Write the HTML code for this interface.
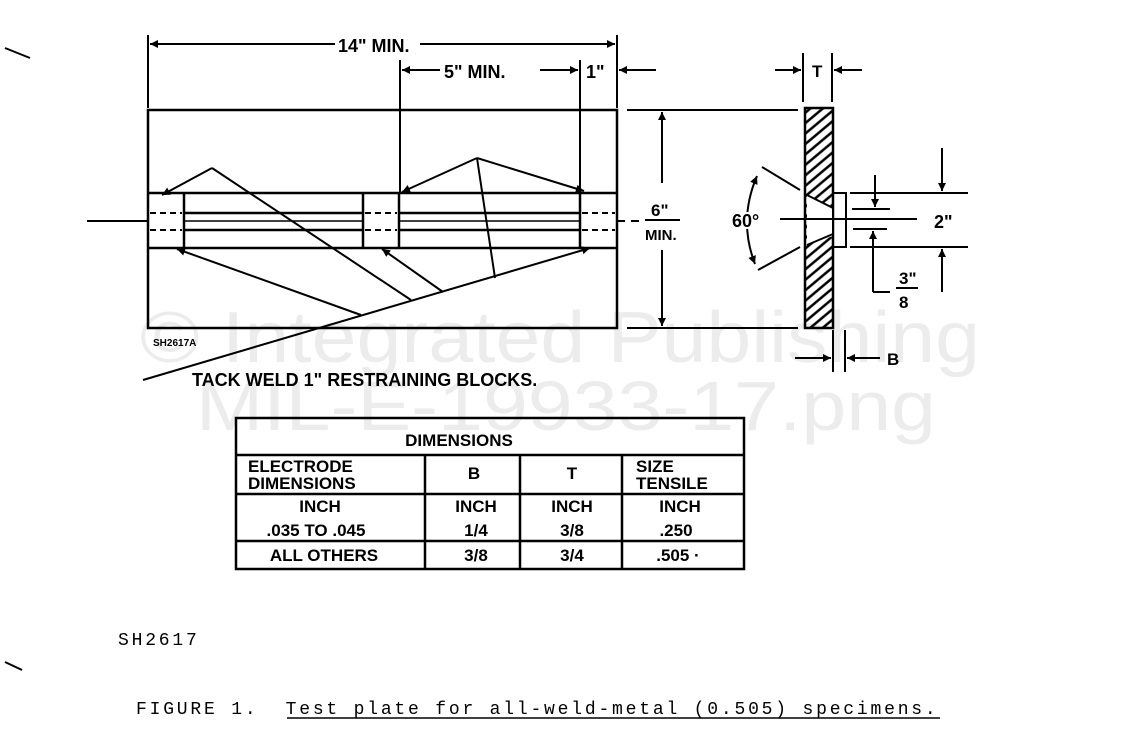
<!DOCTYPE html>
<html><head><meta charset="utf-8"><style>
html,body{margin:0;padding:0;background:#fff;}
svg{display:block;}
.l{font-family:"Liberation Sans",sans-serif;font-weight:bold;fill:#000;}
.m{font-family:"Liberation Mono",monospace;fill:#000;white-space:pre;}
.w{font-family:"Liberation Sans",sans-serif;fill:#ececec;}
</style></head><body>
<svg width="1124" height="742" viewBox="0 0 1124 742" xmlns="http://www.w3.org/2000/svg">
<defs>
<marker id="a" viewBox="0 0 10 10" refX="10" refY="5" markerWidth="14" markerHeight="8" orient="auto-start-reverse" markerUnits="userSpaceOnUse"><path d="M0,0 L10,5 L0,10 z" fill="#000"/></marker>
<pattern id="h" width="8" height="8" patternUnits="userSpaceOnUse" patternTransform="rotate(-40)"><line x1="0" y1="4" x2="8" y2="4" stroke="#000" stroke-width="2.5"/></pattern>
</defs>
<text class="w" x="140" y="362" font-size="72" textLength="840" lengthAdjust="spacingAndGlyphs">© Integrated Publishing</text>
<text class="w" x="196" y="430" font-size="70" textLength="740" lengthAdjust="spacingAndGlyphs">MIL-E-19933-17.png</text>

<g stroke="#000" stroke-width="2.5" fill="none">
<rect x="148" y="110" width="469" height="218"/>
<line x1="148" y1="193" x2="617" y2="193"/>
<line x1="148" y1="248" x2="617" y2="248"/>
<line x1="184" y1="193" x2="184" y2="248"/>
<line x1="363" y1="193" x2="363" y2="248"/>
<line x1="399" y1="193" x2="399" y2="248"/>
<line x1="580" y1="193" x2="580" y2="248"/>
<line x1="184" y1="213" x2="363" y2="213"/><line x1="399" y1="213" x2="580" y2="213"/>
<line x1="184" y1="230" x2="363" y2="230"/><line x1="399" y1="230" x2="580" y2="230"/>
</g>
<g stroke="#000" stroke-width="2" stroke-dasharray="6,4">
<line x1="150" y1="213" x2="182" y2="213"/><line x1="150" y1="230" x2="182" y2="230"/>
<line x1="365" y1="213" x2="397" y2="213"/><line x1="365" y1="230" x2="397" y2="230"/>
<line x1="582" y1="213" x2="615" y2="213"/><line x1="582" y1="230" x2="615" y2="230"/>
</g>
<g stroke="#000" stroke-width="2">
<line x1="87" y1="221" x2="148" y2="221"/>
<line x1="184" y1="221" x2="363" y2="221" stroke-width="1.5"/>
<line x1="399" y1="221" x2="580" y2="221" stroke-width="1.5"/>
<line x1="617" y1="221" x2="640" y2="221" stroke-dasharray="8,6"/>
</g>
<g stroke="#000" stroke-width="2" fill="none">
<line x1="212" y1="168" x2="162" y2="195" marker-end="url(#a)"/>
<line x1="212" y1="168" x2="411" y2="300"/>
<line x1="143" y1="380" x2="590" y2="248" marker-end="url(#a)"/>
<line x1="361" y1="315" x2="177" y2="249" marker-end="url(#a)"/>
<line x1="443" y1="292" x2="382" y2="249" marker-end="url(#a)"/>
<line x1="477" y1="158" x2="402" y2="192" marker-end="url(#a)"/>
<line x1="477" y1="158" x2="584" y2="191" marker-end="url(#a)"/>
<line x1="477" y1="158" x2="495" y2="278"/>
</g>
<g stroke="#000" stroke-width="2" fill="none">
<line x1="148" y1="35" x2="148" y2="108"/>
<line x1="617" y1="35" x2="617" y2="108"/>
<line x1="400" y1="60" x2="400" y2="193"/>
<line x1="580" y1="60" x2="580" y2="193"/>
<line x1="335" y1="44" x2="150" y2="44" marker-end="url(#a)"/>
<line x1="420" y1="44" x2="615" y2="44" marker-end="url(#a)"/>
<line x1="440" y1="70" x2="402" y2="70" marker-end="url(#a)"/>
<line x1="540" y1="70" x2="578" y2="70" marker-end="url(#a)"/>
<line x1="656" y1="70" x2="619" y2="70" marker-end="url(#a)"/>
</g>
<text class="l" x="338" y="52" font-size="18">14" MIN.</text>
<text class="l" x="444" y="78" font-size="18">5" MIN.</text>
<text class="l" x="586" y="78" font-size="18">1"</text>
<text class="l" x="153" y="346" font-size="10">SH2617A</text>
<text class="l" x="192" y="386" font-size="18">TACK WELD 1" RESTRAINING BLOCKS.</text>

<g stroke="#000" stroke-width="2" fill="none">
<line x1="627" y1="110" x2="798" y2="110"/>
<line x1="627" y1="328" x2="798" y2="328"/>
<line x1="662" y1="183" x2="662" y2="112" marker-end="url(#a)"/>
<line x1="662" y1="250" x2="662" y2="326" marker-end="url(#a)"/>
<line x1="645" y1="220" x2="680" y2="220"/>
</g>
<text class="l" x="651" y="216" font-size="17">6"</text>
<text class="l" x="645" y="240" font-size="15">MIN.</text>

<rect x="805" y="108" width="28" height="220" fill="url(#h)" stroke="#000" stroke-width="2.5"/>
<polygon points="807,195 833,207 833,236 807,245" fill="#fff" stroke="none"/>
<g stroke="#000" stroke-width="2" fill="none">
<line x1="807" y1="195" x2="833" y2="208"/>
<line x1="807" y1="245" x2="833" y2="234"/>
<rect x="833" y="193" width="13" height="54"/>
<line x1="803" y1="53" x2="803" y2="102"/>
<line x1="832" y1="53" x2="832" y2="102"/>
<line x1="775" y1="70" x2="801" y2="70" marker-end="url(#a)"/>
<line x1="862" y1="70" x2="834" y2="70" marker-end="url(#a)"/>
<line x1="833" y1="330" x2="833" y2="372"/>
<line x1="845" y1="330" x2="845" y2="372"/>
<line x1="795" y1="358" x2="831" y2="358" marker-end="url(#a)"/>
<line x1="880" y1="358" x2="847" y2="358" marker-end="url(#a)"/>
<line x1="850" y1="193" x2="968" y2="193"/>
<line x1="850" y1="247" x2="968" y2="247"/>
<line x1="942" y1="148" x2="942" y2="191" marker-end="url(#a)"/>
<line x1="942" y1="292" x2="942" y2="249" marker-end="url(#a)"/>
<line x1="780" y1="219" x2="917" y2="219"/>
<line x1="852" y1="209" x2="890" y2="209"/>
<line x1="875" y1="175" x2="875" y2="207" marker-end="url(#a)"/>
<line x1="853" y1="229" x2="887" y2="229"/>
<line x1="873" y1="292" x2="873" y2="231" marker-end="url(#a)"/>
<line x1="873" y1="292" x2="890" y2="292"/>
<line x1="896" y1="288" x2="918" y2="288"/>
<line x1="762" y1="167" x2="800" y2="190"/>
<line x1="758" y1="270" x2="800" y2="247"/>
<path d="M757,176 Q738,220 755,264" marker-start="url(#a)" marker-end="url(#a)"/>
</g>
<text class="l" x="732" y="227" font-size="18" style="paint-order:stroke" stroke="#fff" stroke-width="4">60°</text>
<text class="l" x="887" y="365" font-size="17">B</text>
<text class="l" x="812" y="77" font-size="17">T</text>
<text class="l" x="934" y="228" font-size="18">2"</text>
<text class="l" x="899" y="284" font-size="17">3"</text>
<text class="l" x="899" y="308" font-size="17">8</text>

<g stroke="#000" stroke-width="2.5" fill="none">
<rect x="236" y="418" width="508" height="151"/>
<line x1="236" y1="455" x2="744" y2="455"/>
<line x1="236" y1="494" x2="744" y2="494"/>
<line x1="236" y1="541" x2="744" y2="541"/>
<line x1="425" y1="455" x2="425" y2="569"/>
<line x1="520" y1="455" x2="520" y2="569"/>
<line x1="622" y1="455" x2="622" y2="569"/>
</g>
<g class="l" font-size="17" text-anchor="middle">
<text x="459" y="446">DIMENSIONS</text>
<text x="474" y="479">B</text>
<text x="572" y="479">T</text>
<text x="320" y="512">INCH</text>
<text x="316" y="536">.035 TO .045</text>
<text x="476" y="512">INCH</text>
<text x="476" y="536">1/4</text>
<text x="572" y="512">INCH</text>
<text x="572" y="536">3/8</text>
<text x="680" y="512">INCH</text>
<text x="676" y="536">.250</text>
<text x="324" y="561">ALL OTHERS</text>
<text x="476" y="561">3/8</text>
<text x="572" y="561">3/4</text>
<text x="678" y="561">.505 ·</text>
</g>
<g class="l" font-size="17">
<text x="248" y="472">ELECTRODE</text>
<text x="248" y="489">DIMENSIONS</text>
<text x="636" y="472">SIZE</text>
<text x="636" y="489">TENSILE</text>
</g>

<text class="m" x="118" y="645" font-size="18" letter-spacing="2.8">SH2617</text>
<text class="m" x="136" y="714" font-size="18" letter-spacing="2.8" xml:space="preserve">FIGURE 1.  Test plate for all-weld-metal (0.505) specimens.</text>
<line x1="287" y1="718" x2="940" y2="718" stroke="#000" stroke-width="1.5"/>
<path d="M5,48 L30,58" stroke="#000" stroke-width="2"/>
<path d="M5,662 L22,670" stroke="#000" stroke-width="2"/>
</svg>
</body></html>
